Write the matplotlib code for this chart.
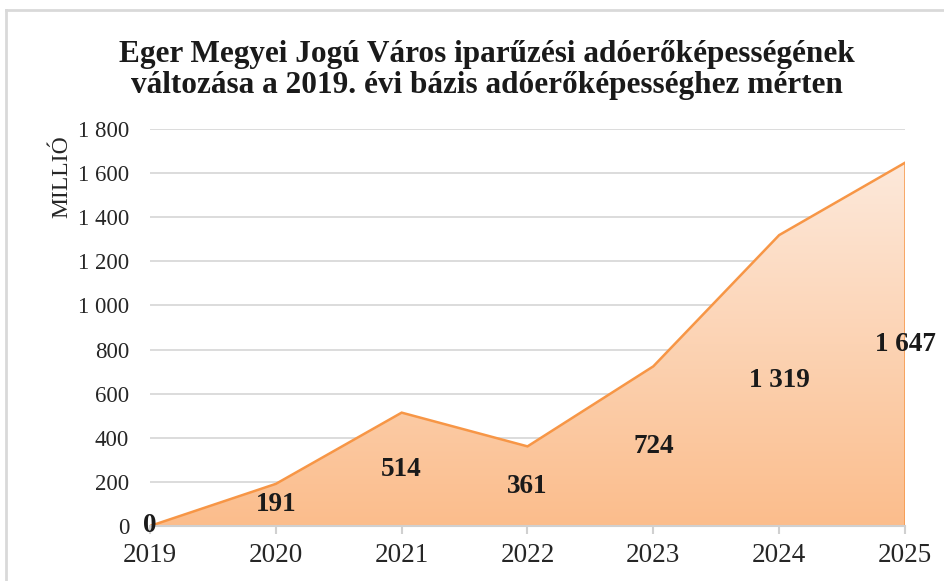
import matplotlib
matplotlib.use("Agg")
import matplotlib.pyplot as plt
import numpy as np
from matplotlib.colors import LinearSegmentedColormap
from matplotlib.lines import Line2D
from matplotlib.patches import Polygon

years = ["2019", "2020", "2021", "2022", "2023", "2024", "2025"]
values = [0, 191, 514, 361, 724, 1319, 1647]
value_labels = ["0", "191", "514", "361", "724", "1 319", "1 647"]
yticks = [0, 200, 400, 600, 800, 1000, 1200, 1400, 1600, 1800]
ytick_labels = ["0", "200", "400", "600", "800", "1 000", "1 200", "1 400", "1 600", "1 800"]
title = "Eger Megyei Jogú Város iparűzési adóerőképességének\nváltozása a 2019. évi bázis adóerőképességhez mérten"
ylabel = "MILLIÓ"

serif = ["Liberation Serif", "DejaVu Serif"]
plt.rcParams["font.family"] = serif

fig = plt.figure(figsize=(9.45, 5.81), dpi=100)
W, H = 945, 581
ax = fig.add_axes([150 / W, 1 - 526 / H, 755 / W, 397 / H])

x = np.arange(len(years))
ax.set_xlim(0, len(years) - 1)
ax.set_ylim(0, 1800)

# gridlines
for t in yticks[1:]:
    ax.axhline(t, color="#d9d9d9", lw=1.3, zorder=1)

# gradient fill
cmap = LinearSegmentedColormap.from_list("g", ["#fbbd8c", "#fde9db"])
grad = np.linspace(0, 1, 256).reshape(-1, 1)
vmax = max(values)
im = ax.imshow(grad, cmap=cmap, aspect="auto", origin="lower",
               extent=[0, len(years) - 1, 0, vmax], zorder=2)
verts = np.column_stack([np.concatenate([x, x[::-1]]),
                         np.concatenate([values, np.zeros(len(x))])])
clip = Polygon(verts, closed=True, transform=ax.transData, facecolor="none", edgecolor="none")
ax.add_patch(clip)
im.set_clip_path(clip)

ax.plot(x, values, color="#f79646", lw=1.8, zorder=3, solid_joinstyle="miter")
ax.plot([x[-1], x[-1]], [0, values[-1]], color="#f79646", lw=1.8, zorder=3)

# labels
for xi, v, lab in zip(x, values, value_labels):
    ax.text(xi, v / 2, lab, ha="center", va="center", fontsize=19.5,
            fontweight="bold", color="#1a1a1a", zorder=5)

for s in ["top", "right", "left"]:
    ax.spines[s].set_visible(False)
ax.spines["bottom"].set_color("#d0d0d0")
ax.spines["bottom"].set_linewidth(1.5)
ax.spines["bottom"].set_zorder(4)

ax.set_xticks(x)
ax.set_xticklabels(years, fontsize=19.5, color="#262626")
ax.tick_params(axis="x", length=6, width=1.5, color="#d0d0d0", pad=6)
ax.set_yticks(yticks)
ax.set_yticklabels(ytick_labels, fontsize=16.5, color="#262626")
ax.tick_params(axis="y", length=0, pad=15)

fig.text(62 / W, 1 - 177 / H, ylabel, rotation=90, ha="center", va="center",
         fontsize=17, color="#262626")

fig.text(487 / W, 1 - 70 / H, title, ha="center", va="center", fontsize=22.5,
         fontweight="bold", color="#1a1a1a", linespacing=1.05)

# outer border
fig.add_artist(Line2D([6 / W, 6 / W], [0, 1 - 10 / H], transform=fig.transFigure,
                      color="#d9d9d9", lw=2))
fig.add_artist(Line2D([6 / W, 1], [1 - 10 / H, 1 - 10 / H], transform=fig.transFigure,
                      color="#d9d9d9", lw=2))

fig.savefig("out.png", dpi=100, facecolor="white")
